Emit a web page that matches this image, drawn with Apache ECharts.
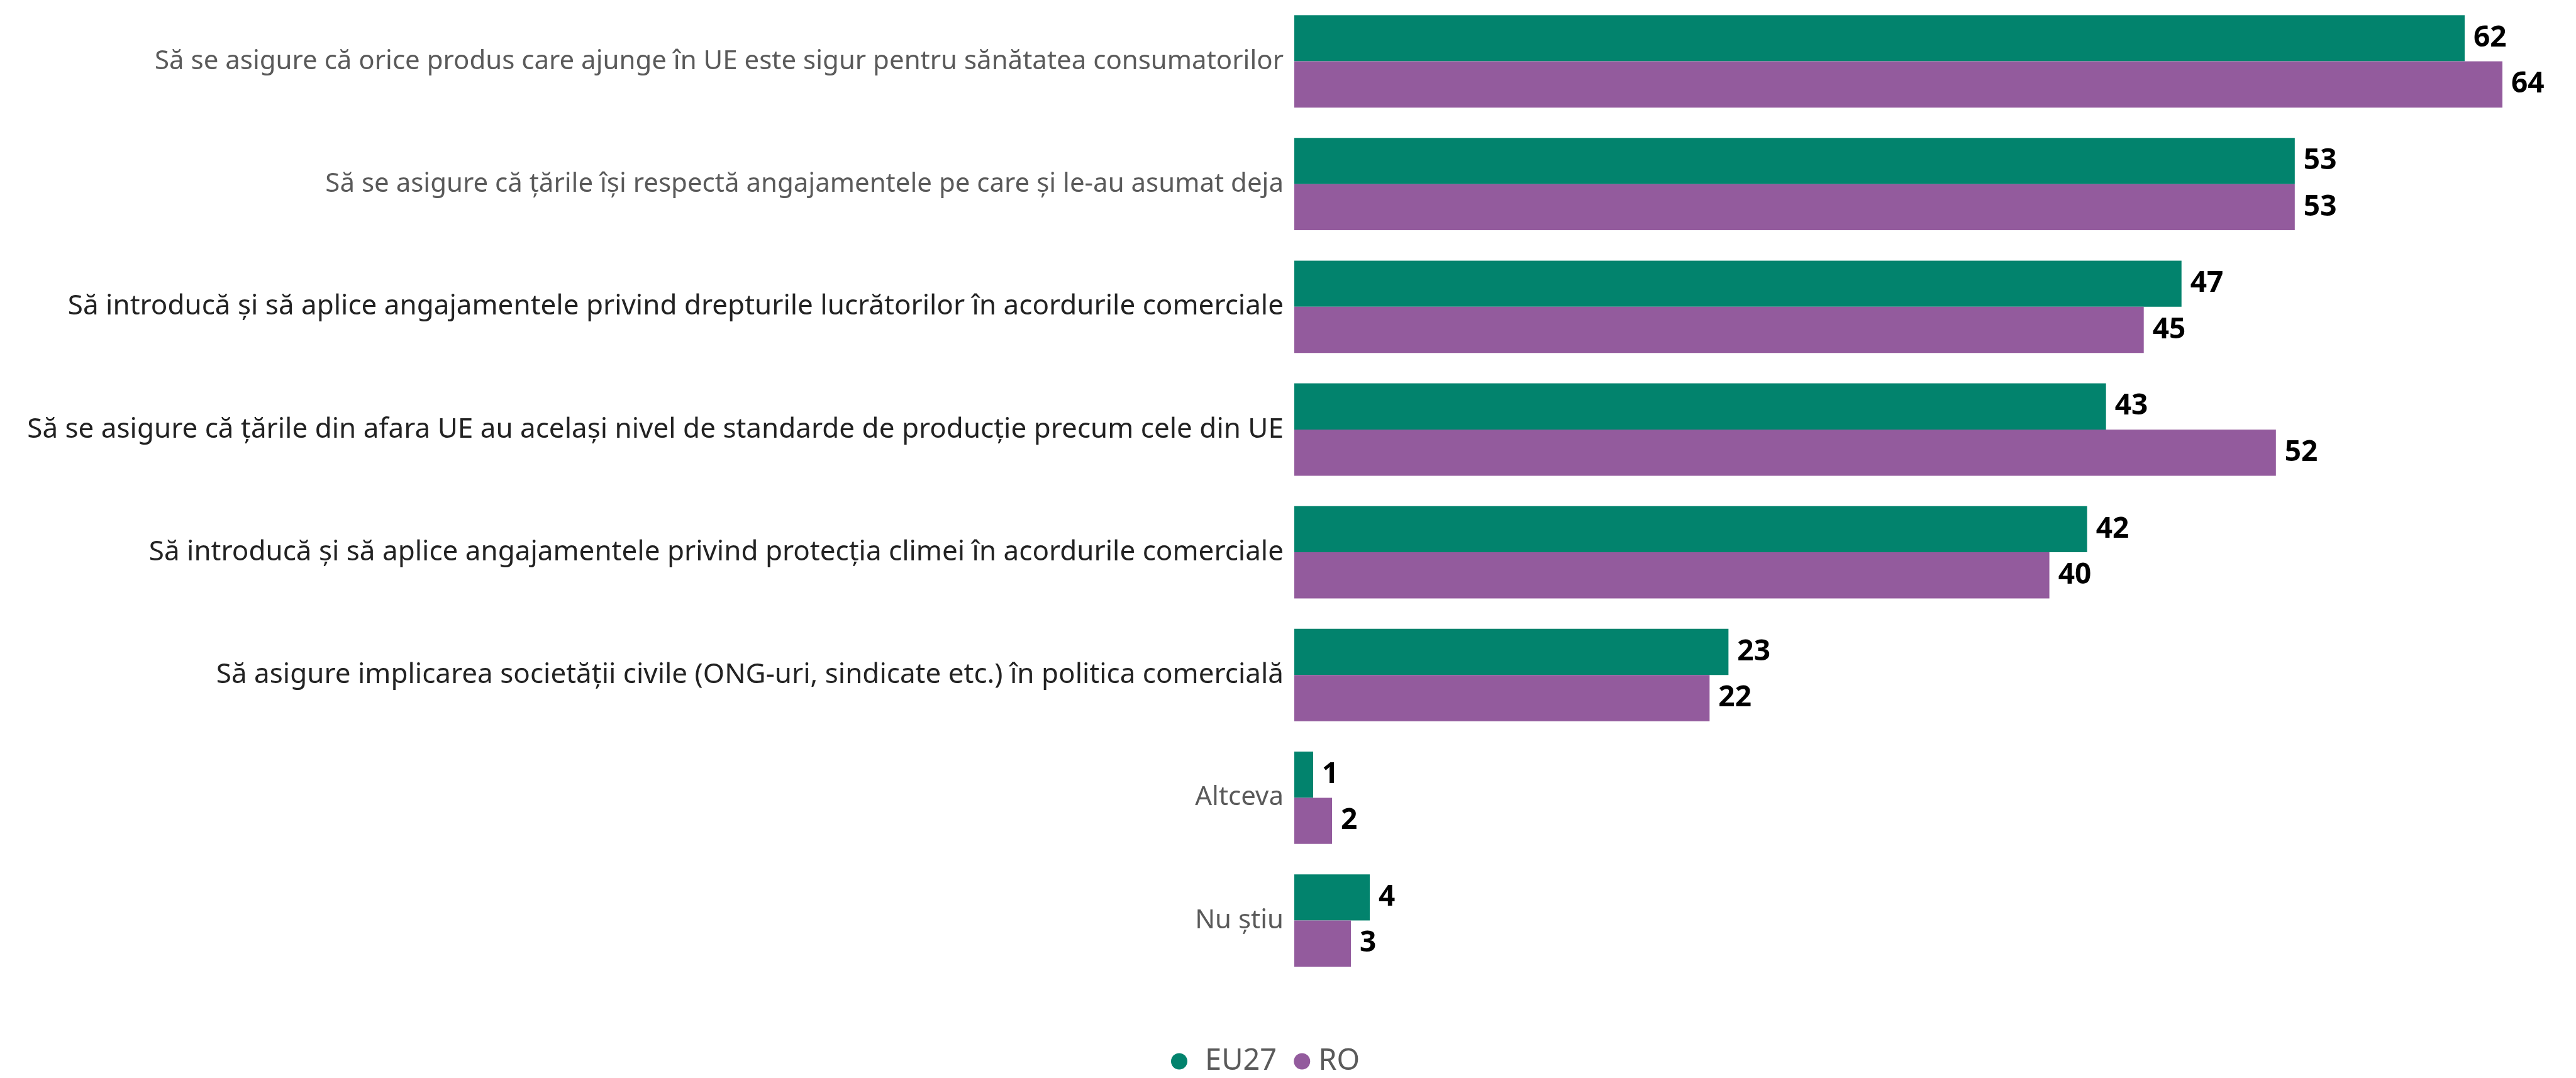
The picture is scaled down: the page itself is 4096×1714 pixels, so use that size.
<!DOCTYPE html>
<html>
<head>
<meta charset="utf-8">
<script src="https://cdn.jsdelivr.net/npm/echarts@6/dist/echarts.min.js"></script>
<style>
html, body { margin: 0; padding: 0; background: #fff; }
#chart { width: 4096px; height: 1714px; }
</style>
</head>
<body>
<div id="chart"></div>
<script>
// categories (top to bottom)
var categories = [
  "Să se asigure că orice produs care ajunge în UE este sigur pentru sănătatea consumatorilor",
  "Să se asigure că țările își respectă angajamentele pe care și le-au asumat deja",
  "Să introducă și să aplice angajamentele privind drepturile lucrătorilor în acordurile comerciale",
  "Să se asigure că țările din afara UE au același nivel de standarde de producție precum cele din UE",
  "Să introducă și să aplice angajamentele privind protecția climei în acordurile comerciale",
  "Să asigure implicarea societății civile (ONG-uri, sindicate etc.) în politica comercială",
  "Altceva",
  "Nu știu"
];
var eu27 = [62, 53, 47, 43, 42, 23, 1, 4];
var ro = [64, 53, 45, 52, 40, 22, 2, 3];

// labels drawn in the darker text colour
var darkLabels = [2, 3, 4, 5];

var chart = echarts.init(document.getElementById("chart"));

var valueLabel = {
  show: true,
  position: "right",
  distance: 14,
  color: "#000",
  fontFamily: "Noto Sans",
  fontWeight: "bold",
  fontSize: 46
};

var option = {
  animation: false,
  backgroundColor: "#fff",
  grid: {
    left: 2058,
    width: 1921,
    top: -8.5,
    height: 1569.6,
    containLabel: false
  },
  legend: {
    left: 1857,
    top: 1659,
    icon: "circle",
    itemWidth: 26,
    itemHeight: 26,
    itemGap: 27,
    data: [
      { name: "EU27", textStyle: { padding: [0, 0, 0, 23] } },
      { name: "RO", textStyle: { padding: [0, 0, 0, 8] } }
    ],
    textStyle: { color: "#5a5a5a", fontSize: 47, fontFamily: "Noto Sans" }
  },
  xAxis: {
    type: "value",
    min: 0,
    max: 64,
    show: false
  },
  yAxis: {
    type: "category",
    inverse: true,
    data: categories,
    axisLine: { show: false },
    axisTick: { show: false },
    axisLabel: {
      margin: 17,
      fontFamily: "Noto Sans",
      formatter: function (value, index) {
        return darkLabels.indexOf(index) >= 0 ? "{d|" + value + "}" : "{g|" + value + "}";
      },
      rich: {
        d: { color: "#222222", fontSize: 44, fontFamily: "Noto Sans" },
        g: { color: "#5a5a5a", fontSize: 42, fontFamily: "Noto Sans" }
      }
    }
  },
  series: [
    {
      name: "EU27",
      type: "bar",
      data: eu27,
      barWidth: 73.4,
      barGap: "0%",
      itemStyle: { color: "#02836d" },
      label: valueLabel
    },
    {
      name: "RO",
      type: "bar",
      data: ro,
      barWidth: 73.4,
      barGap: "0%",
      itemStyle: { color: "#935b9d" },
      label: valueLabel
    }
  ]
};

chart.setOption(option);
</script>
</body>
</html>
